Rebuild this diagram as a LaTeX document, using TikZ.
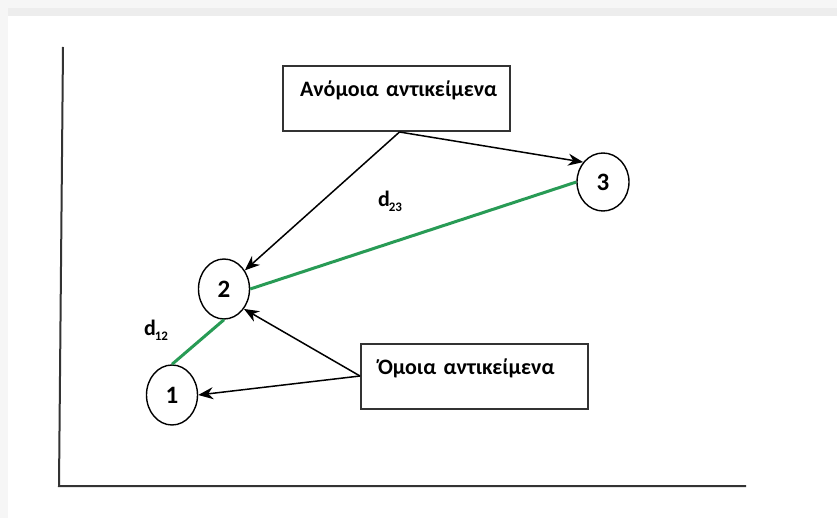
\documentclass[tikz,border=0pt]{standalone}
\usepackage{fontspec}
\setmainfont{Carlito}
\usetikzlibrary{arrows.meta,shapes.geometric}
\definecolor{distgreen}{RGB}{40,155,85}
\definecolor{framegray}{RGB}{51,51,51}

\begin{document}
\begin{tikzpicture}[x=1pt, y=-1pt,
    obj/.style={draw, ellipse, line width=1.4pt, minimum width=51pt,
      minimum height=60pt, inner sep=0pt,
      font=\fontsize{25}{25}\selectfont\bfseries},
    group/.style={draw=framegray, line width=2pt, text width=193pt,
      align=left, inner xsep=17pt, inner ysep=17pt, text height=14pt,
      text depth=17pt, font=\fontsize{22}{25}\selectfont\bfseries},
    dist/.style={line width=3pt, distgreen},
    pointer/.style={-{Stealth[length=15pt,width=12pt]}, line width=1.5pt},
    dlabel/.style={font=\fontsize{22}{22}\selectfont\bfseries}]
  \useasboundingbox (0,0) rectangle (837,518);
  \fill[gray!7] (0,0) rectangle (837,518);
  \fill[gray!14] (8,8) rectangle (837,16);
  \fill[white] (8,16) rectangle (837,518);

  % axes
  \draw[line width=2pt, framegray] (63,47) -- (59,486) -- (746,486);

  % objects
  \node[obj] (o1) at (172,395) {1};
  \node[obj] (o2) at (224,289) {2};
  \node[obj, minimum width=52pt, minimum height=58pt] (o3) at (603,182) {3};

  % groups
  \node[group] (dissim) at (396.5,98.5) {\mbox{Ανόμοια αντικείμενα}};
  \node[group] (sim) at (474.5,376) {\mbox{Όμοια αντικείμενα}};

  % distances
  \draw[dist] (o1.north) -- (o2.south);
  \draw[dist] (o2.east) -- (o3.west);
  \node[dlabel] (d12) at (156,330) {d\kern-1pt\raisebox{-5pt}{\fontsize{13}{13}\selectfont 12}};
  \node[dlabel] (d23) at (390,201) {d\kern-1pt\raisebox{-5pt}{\fontsize{13}{13}\selectfont 23}};

  \draw[pointer] ([xshift=3pt]dissim.south) -- (o2);
  \draw[pointer] ([xshift=3pt]dissim.south) -- (o3.135);
  \draw[pointer] (sim.west) -- (o2.-45);
  \draw[pointer] (sim.west) -- (o1.east);
\end{tikzpicture}
\end{document}
